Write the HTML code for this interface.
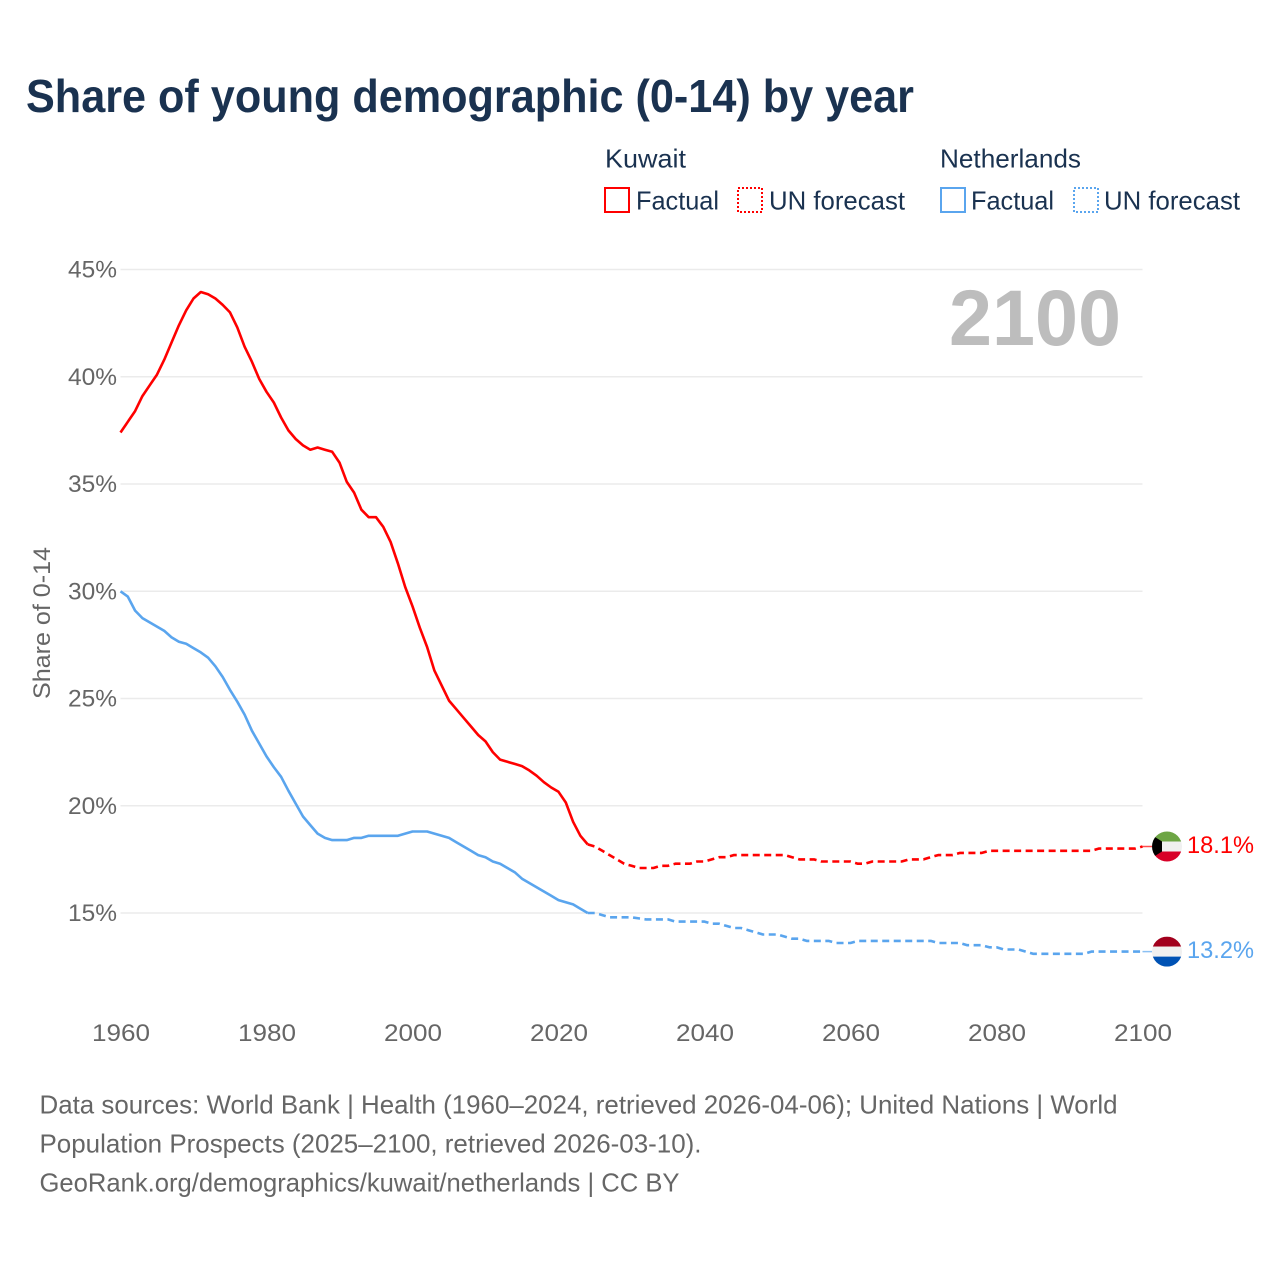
<!DOCTYPE html>
<html lang="en">
<head>
<meta charset="utf-8">
<title>Share of young demographic (0-14) by year</title>
<style>
html,body{margin:0;padding:0;background:#fff;}
svg{display:block;font-family:"Liberation Sans",sans-serif;}
.dark{fill:#1a3250;}
.grey{fill:#666;}
</style>
</head>
<body>
<svg id="chart" width="1280" height="1280" viewBox="0 0 1280 1280" xmlns="http://www.w3.org/2000/svg">
<rect x="0" y="0" width="1280" height="1280" fill="#fff"/>
<text class="dark" x="26" y="112" font-size="46" font-weight="700" textLength="888" lengthAdjust="spacingAndGlyphs">Share of young demographic (0-14) by year</text>

<g font-size="26">
<text class="dark" x="605" y="167.5" textLength="81" lengthAdjust="spacingAndGlyphs">Kuwait</text>
<text class="dark" x="940" y="167.5" textLength="141" lengthAdjust="spacingAndGlyphs">Netherlands</text>
<g>
<rect x="605" y="188" width="24" height="24" fill="#fff" stroke="#ff0000" stroke-width="2"/>
<text class="dark" x="636" y="209.5" textLength="83" lengthAdjust="spacingAndGlyphs">Factual</text>
</g>
<g>
<rect x="738" y="188" width="24" height="24" fill="#fff" stroke="#ff0000" stroke-width="2" stroke-dasharray="2 2"/>
<text class="dark" x="769" y="209.5" textLength="136" lengthAdjust="spacingAndGlyphs">UN forecast</text>
</g>
<g>
<rect x="941" y="188" width="24" height="24" fill="#fff" stroke="#5aa5ee" stroke-width="2"/>
<text class="dark" x="971" y="209.5" textLength="83" lengthAdjust="spacingAndGlyphs">Factual</text>
</g>
<g>
<rect x="1074" y="188" width="24" height="24" fill="#fff" stroke="#5aa5ee" stroke-width="2" stroke-dasharray="2 2"/>
<text class="dark" x="1104" y="209.5" textLength="136" lengthAdjust="spacingAndGlyphs">UN forecast</text>
</g>
</g>

<g id="grid"></g>
<g id="yticks"></g>
<g id="xticks"></g>
<text class="grey" font-size="24" text-anchor="middle" transform="translate(50 623) rotate(-90)" textLength="152" lengthAdjust="spacingAndGlyphs">Share of 0-14</text>
<text x="949" y="345" font-size="79" font-weight="700" fill="#bdbdbd" textLength="172" lengthAdjust="spacingAndGlyphs">2100</text>

<g id="series"></g>
<g id="ends"></g>

<g class="grey" font-size="26">
<text class="grey" x="39.5" y="1113.5" textLength="1078" lengthAdjust="spacingAndGlyphs">Data sources: World Bank | Health (1960–2024, retrieved 2026-04-06); United Nations | World</text>
<text class="grey" x="39.5" y="1152.5" textLength="662" lengthAdjust="spacingAndGlyphs">Population Prospects (2025–2100, retrieved 2026-03-10).</text>
<text class="grey" x="39.5" y="1191.5" textLength="640" lengthAdjust="spacingAndGlyphs">GeoRank.org/demographics/kuwait/netherlands | CC BY</text>
</g>
</svg>
<script>
const yTickValues = [15, 20, 25, 30, 35, 40, 45];
const xTickYears = [1960, 1980, 2000, 2020, 2040, 2060, 2080, 2100];
const factualStartYear = 1960;
const forecastStartYear = 2024;
const kuwaitFactual = [
  37.4,37.9,38.4,39.1,39.6,40.1,40.8,41.6,42.4,43.1,
  43.65,43.95,43.85,43.65,43.35,43.0,42.3,41.4,40.7,39.9,
  39.3,38.8,38.1,37.5,37.1,36.8,36.6,36.7,36.6,36.5,
  36.0,35.1,34.6,33.8,33.45,33.45,33.0,32.3,31.3,30.2,
  29.3,28.3,27.4,26.3,25.6,24.9,24.5,24.1,23.7,23.3,
  23.0,22.5,22.15,22.05,21.95,21.85,21.65,21.4,21.1,20.85,
  20.65,20.15,19.25,18.6,18.2
];
const kuwaitForecast = [
  18.2,
  18.1,17.9,17.7,17.5,17.3,17.2,
  17.1,17.1,17.1,17.2,17.2,17.3,17.3,17.3,17.4,17.4,
  17.5,17.6,17.6,17.7,17.7,17.7,17.7,17.7,17.7,17.7,
  17.7,17.6,17.5,17.5,17.5,17.4,17.4,17.4,17.4,17.4,
  17.3,17.3,17.4,17.4,17.4,17.4,17.4,17.5,17.5,17.5,
  17.6,17.7,17.7,17.7,17.8,17.8,17.8,17.8,17.9,17.9,
  17.9,17.9,17.9,17.9,17.9,17.9,17.9,17.9,17.9,17.9,
  17.9,17.9,17.9,18.0,18.0,18.0,18.0,18.0,18.0,18.1
];
const netherlandsFactual = [
  30.0,29.75,29.1,28.75,28.55,28.35,28.15,27.85,27.65,27.55,
  27.35,27.15,26.9,26.5,26.0,25.4,24.85,24.25,23.5,22.9,
  22.3,21.8,21.35,20.7,20.1,19.5,19.1,18.7,18.5,18.4,
  18.4,18.4,18.5,18.5,18.6,18.6,18.6,18.6,18.6,18.7,
  18.8,18.8,18.8,18.7,18.6,18.5,18.3,18.1,17.9,17.7,
  17.6,17.4,17.3,17.1,16.9,16.6,16.4,16.2,16.0,15.8,
  15.6,15.5,15.4,15.2,15.0
];
const netherlandsForecast = [
  15.0,
  15.0,14.9,14.8,14.8,14.8,14.8,
  14.75,14.7,14.7,14.7,14.7,14.6,14.6,14.6,14.6,14.6,
  14.5,14.5,14.4,14.3,14.3,14.2,14.1,14.0,14.0,14.0,
  13.9,13.8,13.8,13.7,13.7,13.7,13.7,13.6,13.6,13.6,
  13.7,13.7,13.7,13.7,13.7,13.7,13.7,13.7,13.7,13.7,
  13.7,13.6,13.6,13.6,13.6,13.5,13.5,13.5,13.4,13.4,
  13.3,13.3,13.3,13.2,13.1,13.1,13.1,13.1,13.1,13.1,
  13.1,13.1,13.2,13.2,13.2,13.2,13.2,13.2,13.2,13.2
];

const NS = 'http://www.w3.org/2000/svg';
const RED = '#ff0000';
const BLUE = '#5aa5ee';
const xScale = function (year) { return 120.5 + (year - 1960) * 7.3; };
const yScale = function (value) { return 913 - (value - 15) * 21.45; };
const make = function (tag, parentId) {
  const node = document.createElementNS(NS, tag);
  document.getElementById(parentId).appendChild(node);
  return node;
};
const pathFor = function (values, startYear) {
  return values.map(function (v, i) {
    return (i ? 'L' : 'M') + xScale(startYear + i).toFixed(1) + ' ' + yScale(v).toFixed(1);
  }).join(' ');
};

yTickValues.forEach(function (v) {
  const gl = make('line', 'grid');
  
  
  gl.setAttribute('x1', xScale(1960));
  gl.setAttribute('x2', xScale(2100));
  gl.setAttribute('y1', yScale(v));
  gl.setAttribute('y2', yScale(v));
  gl.setAttribute('stroke', '#ebebeb');
  gl.setAttribute('stroke-width', '1.5');
  const lb = make('text', 'yticks');
  
  
  lb.setAttribute('x', 68);
  lb.setAttribute('y', yScale(v) + 8);
  lb.setAttribute('font-size', '24.5');
  lb.setAttribute('fill', '#666');
  lb.setAttribute('textLength', '49');
  lb.setAttribute('lengthAdjust', 'spacingAndGlyphs');
  lb.textContent = v + '%';
});

xTickYears.forEach(function (yr) {
  const lb = make('text', 'xticks');
  
  
  lb.setAttribute('x', xScale(yr) - 28.5);
  lb.setAttribute('y', 1041);
  lb.setAttribute('font-size', '24.5');
  lb.setAttribute('fill', '#666');
  lb.setAttribute('textLength', '58');
  lb.setAttribute('lengthAdjust', 'spacingAndGlyphs');
  lb.textContent = yr;
});

[
  ['kuwait-factual', kuwaitFactual, factualStartYear, RED, null],
  ['kuwait-forecast', kuwaitForecast, forecastStartYear, RED, '7 4.5'],
  ['netherlands-factual', netherlandsFactual, factualStartYear, BLUE, null],
  ['netherlands-forecast', netherlandsForecast, forecastStartYear, BLUE, '7 4.5']
].forEach(function (s) {
  const p = make('path', 'series');
  
  
  p.setAttribute('d', pathFor(s[1], s[2]));
  p.setAttribute('fill', 'none');
  p.setAttribute('stroke', s[3]);
  p.setAttribute('stroke-width', '2.6');
  p.setAttribute('stroke-linejoin', 'round');
  if (s[4]) p.setAttribute('stroke-dasharray', s[4]);
});

const flagStripes = {
  kuwait: ['#6da544', '#f0f0f0', '#d80027'],
  netherlands: ['#a2001d', '#f0f0f0', '#0052b4']
};
[
  ['kuwait', kuwaitForecast, RED],
  ['netherlands', netherlandsForecast, BLUE]
].forEach(function (s) {
  const last = s[1][s[1].length - 1];
  const cy = yScale(last);
  const cx = 1167;
  const tail = make('line', 'ends');
  
  
  tail.setAttribute('x1', xScale(2100));
  tail.setAttribute('x2', cx - 15);
  tail.setAttribute('y1', cy);
  tail.setAttribute('y2', cy);
  tail.setAttribute('stroke', s[2]);
  tail.setAttribute('stroke-width', '1.5');
  tail.setAttribute('stroke-opacity', '0.7');

  const clip = make('clipPath', 'ends');
  clip.setAttribute('id', 'clip-' + s[0]);
  const disc = document.createElementNS(NS, 'circle');
  disc.setAttribute('cx', cx);
  disc.setAttribute('cy', cy);
  disc.setAttribute('r', 15);
  clip.appendChild(disc);

  const flag = make('g', 'ends');
  flag.setAttribute('id', 'flag-' + s[0]);
  
  
  flag.setAttribute('clip-path', 'url(#clip-' + s[0] + ')');
  flagStripes[s[0]].forEach(function (color, i) {
    const band = make('rect', 'flag-' + s[0]);
    
    
    band.setAttribute('x', cx - 15);
    band.setAttribute('y', cy - 15 + i * 10);
    band.setAttribute('width', 30);
    band.setAttribute('height', 10);
    band.setAttribute('fill', color);
  });
  if (s[0] === 'kuwait') {
    const hoist = make('polygon', 'flag-' + s[0]);
    
    
    const pts = [[-16, -12], [-5, -5], [-5, 5], [-16, 12]];
    hoist.setAttribute('points', pts.map(function (q) { return (cx + q[0]) + ',' + (cy + q[1]); }).join(' '));
    hoist.setAttribute('fill', '#000');
  }
  const lb = make('text', 'ends');
  
  
  lb.setAttribute('x', 1187);
  lb.setAttribute('y', cy + 6.5);
  lb.setAttribute('font-size', '24.5');
  lb.setAttribute('fill', s[2]);
  lb.setAttribute('textLength', '67');
  lb.setAttribute('lengthAdjust', 'spacingAndGlyphs');
  lb.textContent = last.toFixed(1) + '%';
});
</script>
</body>
</html>
